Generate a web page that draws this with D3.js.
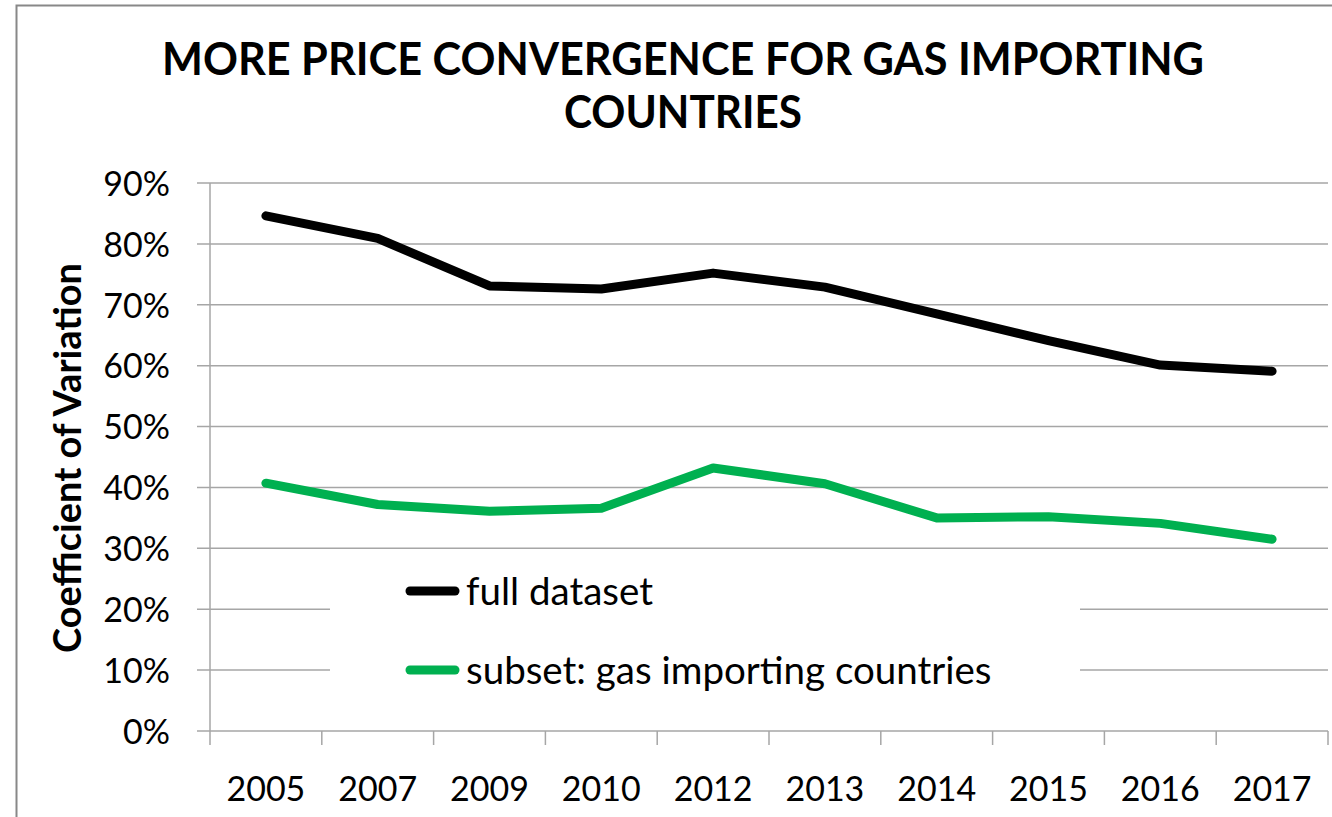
<!DOCTYPE html>
<html>
<head>
<meta charset="utf-8">
<script src="https://cdn.jsdelivr.net/npm/d3@7"></script>
<style>
  html, body { margin: 0; padding: 0; background: #fff; }
  svg { display: block; }
</style>
</head>
<body>
<div id="chart"></div>
<script>
// Coefficient of variation of gas prices, by year
const years = ['2005', '2007', '2009', '2010', '2012', '2013', '2014', '2015', '2016', '2017']
const fullDataset = [0.846, 0.809, 0.731, 0.726, 0.752, 0.729, 0.685, 0.641, 0.601, 0.591]
const importers = [0.407, 0.372, 0.361, 0.366, 0.432, 0.406, 0.350, 0.352, 0.341, 0.315]
const yTicks = [0, 0.1, 0.2, 0.3, 0.4, 0.5, 0.6, 0.7, 0.8, 0.9]

const SERIES = [
  { name: 'full dataset', values: fullDataset, color: '#000000' },
  { name: 'subset: gas importing countries', values: importers, color: '#00B050' },
]

const W = 1332, H = 817
const FONT = 'Lato, "Open Sans", sans-serif'
const GRID = '#a6a6a6'
const margin = { top: 183, right: 4, bottom: 86, left: 210 }

const svg = d3.select('#chart').append('svg')
  .attr('width', W).attr('height', H)

// Outer chart frame (left and top edges visible)
svg.append('path')
  .attr('d', `M16.5,${H} V5.5 H${W}`)
  .attr('fill', 'none').attr('stroke', '#888').attr('stroke-width', 2)

const x = d3.scaleBand()
  .domain(years)
  .range([margin.left, W - margin.right])
  .paddingInner(0).paddingOuter(0)

const y = d3.scaleLinear()
  .domain([0, 0.9])
  .range([H - margin.bottom, margin.top])

// Gridlines
svg.append('g').attr('class', 'grid')
  .selectAll('line')
  .data(yTicks)
  .join('line')
  .attr('x1', margin.left - 13).attr('x2', W - margin.right)
  .attr('y1', d => y(d)).attr('y2', d => y(d))
  .attr('stroke', GRID).attr('stroke-width', 1.5)

// Y axis
svg.append('g')
  .attr('transform', `translate(${margin.left},0)`)
  .call(d3.axisLeft(y).tickValues(yTicks).tickFormat(d3.format('.0%')).tickSize(0).tickPadding(40))
  .call(g => {
    g.select('.domain').attr('stroke', GRID).attr('stroke-width', 1.5)
      .attr('d', `M0,${y(0.9)}V${y(0) + 14}`)
    g.selectAll('.tick text')
      .attr('fill', '#000').attr('font-size', '34px')
      .attr('font-family', FONT).attr('dy', '0.36em')
  })

// X axis, ticks between categories
svg.append('g')
  .attr('transform', `translate(0,${y(0)})`)
  .call(d3.axisBottom(x).tickSize(0).tickPadding(46))
  .call(g => {
    g.select('.domain').remove()
    g.selectAll('.tick text')
      .attr('fill', '#000').attr('font-size', '34px')
      .attr('font-family', FONT)
  })

svg.append('g').attr('class', 'x-ticks')
  .selectAll('line')
  .data(years.slice(1).concat(['end']))
  .join('line')
  .attr('x1', d => d === 'end' ? x.range()[1] : x(d))
  .attr('x2', d => d === 'end' ? x.range()[1] : x(d))
  .attr('y1', y(0)).attr('y2', y(0) + 14)
  .attr('stroke', GRID).attr('stroke-width', 1.5)

// Lines
const line = d3.line()
  .x((d, i) => x(years[i]) + x.bandwidth() / 2)
  .y(d => y(d))

svg.append('g').attr('class', 'lines')
  .selectAll('path')
  .data(SERIES)
  .join('path')
  .attr('d', d => line(d.values))
  .attr('fill', 'none')
  .attr('stroke', d => d.color)
  .attr('stroke-width', 9)
  .attr('stroke-linejoin', 'round')
  .attr('stroke-linecap', 'round')

// Legend (white box hides the gridlines behind it)
const legendG = svg.append('g').attr('class', 'legend')
legendG.append('rect')
  .attr('x', 330).attr('y', 562)
  .attr('width', 750).attr('height', 140)
  .attr('fill', '#fff')

SERIES.forEach((s, i) => {
  const ly = 591 + i * 79
  legendG.append('line')
    .attr('x1', 410).attr('x2', 455)
    .attr('y1', ly).attr('y2', ly)
    .attr('stroke', s.color).attr('stroke-width', 9)
    .attr('stroke-linecap', 'round')
  legendG.append('text')
    .attr('x', 466).attr('y', ly).attr('dy', '0.36em')
    .attr('fill', '#000').attr('font-size', '38.5px')
    .attr('font-family', FONT)
    .text(s.name)
})

// Y axis title
svg.append('text')
  .attr('transform', `translate(81,458) rotate(-90)`)
  .attr('text-anchor', 'middle')
  .attr('fill', '#000').attr('font-size', '38px').attr('font-weight', 'bold')
  .attr('font-family', FONT)
  .text('Coefficient of Variation')

// Title (narrow bold face, so squeeze to the reference width)
const titleLines = ['MORE PRICE CONVERGENCE FOR GAS IMPORTING', 'COUNTRIES']
const titleWidths = [1042, 238]
titleLines.forEach((t, i) => {
  svg.append('text')
    .attr('x', 683).attr('y', 75 + i * 53)
    .attr('text-anchor', 'middle')
    .attr('fill', '#000').attr('font-size', '46px').attr('font-weight', 'bold')
    .attr('font-family', FONT)
    .attr('textLength', titleWidths[i]).attr('lengthAdjust', 'spacingAndGlyphs')
    .text(t)
})
</script>
</body>
</html>
